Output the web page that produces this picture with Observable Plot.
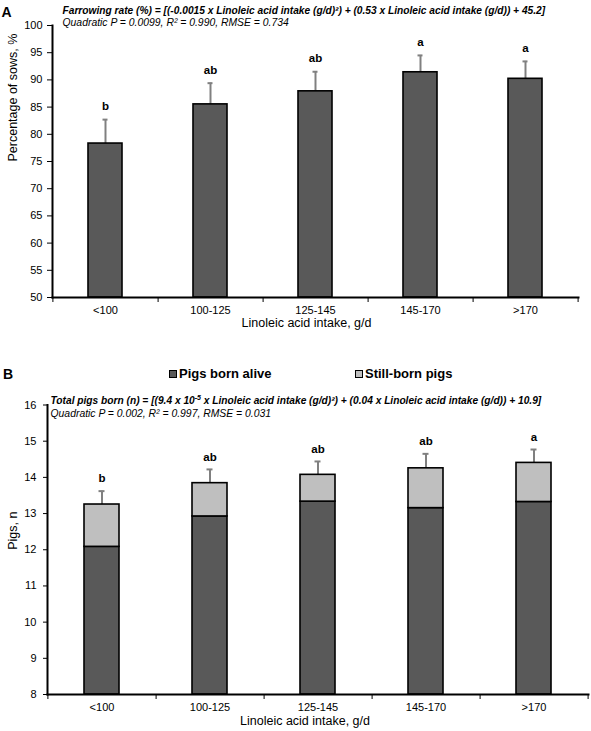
<!DOCTYPE html>
<html><head><meta charset="utf-8">
<script src="https://cdn.jsdelivr.net/npm/d3@7"></script>
<script src="https://cdn.jsdelivr.net/npm/@observablehq/plot@0.6"></script>
<style>
body{margin:0;background:#fff;font-family:"Liberation Sans",Arial,sans-serif;color:#000;}
#wrap{position:relative;width:591px;height:731px;overflow:hidden;}
#panelA svg,#panelB svg{display:block;}
#legendB{position:relative;height:32px;}
#legendB .pl{position:absolute;left:3px;top:8px;font-weight:bold;font-size:14px;line-height:16px;}
#legendB .it{position:absolute;top:8px;font-weight:bold;font-size:13px;line-height:16px;white-space:nowrap;}
#legendB .sw{position:absolute;left:0;top:4px;width:6px;height:6px;border:1px solid #000;}
</style></head><body>
<div id="wrap">
<div id="panelA"></div>
<div id="legendB">
  <span class="pl">B</span>
  <span class="it" style="left:169px"><i class="sw" style="background:#595959"></i><span style="margin-left:10px">Pigs born alive</span></span>
  <span class="it" style="left:355px"><i class="sw" style="background:#bfbfbf"></i><span style="margin-left:10px">Still-born pigs</span></span>
</div>
<div id="panelB"></div>
</div>
<script>
// ---- data ----
const categories = ["<100", "100-125", "125-145", "145-170", ">170"];
const farrowingRate = [78.3, 85.5, 87.9, 91.4, 90.2];
const farrowingSE = [4.4, 3.9, 3.6, 3.1, 3.2];
const farrowingLetters = ["b", "ab", "ab", "a", "a"];
const bornAlive = [12.08, 12.92, 13.33, 13.15, 13.32];
const stillBorn = [1.17, 0.92, 0.74, 1.10, 1.08];
const totalSE = [0.37, 0.38, 0.37, 0.40, 0.37];
const totalLetters = ["b", "ab", "ab", "ab", "a"];
const yTicksA = [50, 55, 60, 65, 70, 75, 80, 85, 90, 95, 100];
const yTicksB = [8, 9, 10, 11, 12, 13, 14, 15, 16];
const xLabel = "Linoleic acid intake, g/d";
const yLabelA = "Percentage of sows, %";
const yLabelB = "Pigs, n";
const titleA = ["Farrowing rate (%) = [(-0.0015 x Linoleic acid intake (g/d)²) + (0.53 x Linoleic acid intake (g/d)) + 45.2]",
                "Quadratic P = 0.0099, R² = 0.990, RMSE = 0.734"];
const titleB = ["Total pigs born (n) = [(9.4 x 10-5 x Linoleic acid intake (g/d)²) + (0.04 x Linoleic acid intake (g/d)) + 10.9]",
                "Quadratic P = 0.002, R² = 0.997, RMSE = 0.031"];

const W = 591;
const DARK = "#595959", LIGHT = "#bfbfbf", ERR = "#808080";
const FONT = "'Liberation Sans', Arial, sans-serif";

const dataA = categories.map((c, i) => ({cat: c, value: farrowingRate[i], top: farrowingRate[i] + farrowingSE[i], letter: farrowingLetters[i]}));
const dataB = categories.map((c, i) => ({cat: c, alive: bornAlive[i], total: bornAlive[i] + stillBorn[i], top: bornAlive[i] + stillBorn[i] + totalSE[i], letter: totalLetters[i]}));

function xScale() {
  return {type: "band", domain: categories, paddingInner: 0.68, paddingOuter: 0.34, align: 0.5, axis: null};
}
function xAxes(step) {
  return [
    Plot.axisX({tickSize: 0, tickPadding: 9, fontSize: 11, label: null}),
    Plot.axisX({tickSize: 5, dx: step / 2, tickFormat: () => "", label: null}),
    Plot.axisX({ticks: [categories[0]], tickSize: 5, dx: -step / 2, tickFormat: () => "", label: null})
  ];
}

// ---- Panel A ----
{
  const ml = 52, mr = 13, mt = 25, mb = 61, h = 358;
  const step = (W - ml - mr) / categories.length;
  const yMin = yTicksA[0];
  const chart = Plot.plot({
    width: W, height: h, marginLeft: ml, marginRight: mr, marginTop: mt, marginBottom: mb,
    style: {fontFamily: FONT, fontSize: "11px", color: "black", background: "white"},
    x: xScale(),
    y: {domain: [yTicksA[0], yTicksA[yTicksA.length - 1]], axis: null},
    marks: [
      Plot.axisY({ticks: yTicksA, tickSize: 5, tickPadding: 5, fontSize: 11, label: null}),
      ...xAxes(step),
      Plot.ruleX(dataA, {x: "cat", y1: "value", y2: "top", stroke: ERR, strokeWidth: 2}),
      Plot.tickY(dataA, {x: "cat", y: "top", insetLeft: 14.5, insetRight: 14.5, stroke: ERR, strokeWidth: 2}),
      Plot.barY(dataA, {x: "cat", y1: () => yMin, y2: "value", fill: DARK, stroke: "black", strokeWidth: 1.6}),
      Plot.text(dataA, {x: "cat", y: "top", text: "letter", dy: -13, fontWeight: "bold", fontSize: 11.5}),
      Plot.frame({anchor: "left", stroke: "black", strokeWidth: 2}),
      Plot.frame({anchor: "bottom", stroke: "black", strokeWidth: 2}),
      Plot.text([yLabelA], {frameAnchor: "left", dx: -40, rotate: -90, fontSize: 12.5}),
      Plot.text([xLabel], {frameAnchor: "bottom", dx: -9, dy: 29, fontSize: 12.5}),
      Plot.text([titleA[0]], {frameAnchor: "top-left", dx: 10, dy: -19, textAnchor: "start", fontWeight: "bold", fontStyle: "italic", fontSize: 10.2}),
      Plot.text([titleA[1]], {frameAnchor: "top-left", dx: 10, dy: -6.5, textAnchor: "start", fontStyle: "italic", fontSize: 10.4}),
      Plot.text(["A"], {frameAnchor: "top-left", dx: -51, dy: -18, textAnchor: "start", fontWeight: "bold", fontSize: 14})
    ]
  });
  document.getElementById("panelA").append(chart);
}

// ---- Panel B ----
{
  const ml = 47, mr = 3, mt = 14.5, mb = 37, h = 341;
  const step = (W - ml - mr) / categories.length;
  const yMin = yTicksB[0];
  const chart = Plot.plot({
    width: W, height: h, marginLeft: ml, marginRight: mr, marginTop: mt, marginBottom: mb,
    style: {fontFamily: FONT, fontSize: "11px", color: "black", background: "white"},
    x: xScale(),
    y: {domain: [yTicksB[0], yTicksB[yTicksB.length - 1]], axis: null},
    marks: [
      Plot.axisY({ticks: yTicksB, tickSize: 4, tickPadding: 7, fontSize: 11, label: null}),
      ...xAxes(step),
      Plot.ruleX(dataB, {x: "cat", y1: "total", y2: "top", stroke: ERR, strokeWidth: 2}),
      Plot.tickY(dataB, {x: "cat", y: "top", insetLeft: 14.5, insetRight: 14.5, stroke: ERR, strokeWidth: 2}),
      Plot.barY(dataB, {x: "cat", y1: () => yMin, y2: "alive", fill: DARK, stroke: "black", strokeWidth: 1.6}),
      Plot.barY(dataB, {x: "cat", y1: "alive", y2: "total", fill: LIGHT, stroke: "black", strokeWidth: 1.6}),
      Plot.text(dataB, {x: "cat", y: "top", text: "letter", dy: -12.5, fontWeight: "bold", fontSize: 11.5}),
      Plot.frame({anchor: "left", stroke: "black", strokeWidth: 2}),
      Plot.frame({anchor: "bottom", stroke: "black", strokeWidth: 2}),
      Plot.text([yLabelB], {frameAnchor: "left", dx: -35, rotate: -90, fontSize: 12.5}),
      Plot.text([xLabel], {frameAnchor: "bottom", dx: -13, dy: 30, fontSize: 12.5}),
      Plot.text([titleB[0]], {frameAnchor: "top-left", dx: 3, dy: -8.5, textAnchor: "start", fontWeight: "bold", fontStyle: "italic", fontSize: 10.2}),
      Plot.text([titleB[1]], {frameAnchor: "top-left", dx: 3, dy: 5, textAnchor: "start", fontStyle: "italic", fontSize: 10.4})
    ]
  });
  document.getElementById("panelB").append(chart);
}

// superscript "-5" in the panel B equation
document.querySelectorAll("#panelB text").forEach(t => {
  const s = t.textContent;
  const k = s.indexOf("10-5");
  if (k < 0 || t.children.length) return;
  const ns = "http://www.w3.org/2000/svg";
  t.textContent = "";
  const a = document.createElementNS(ns, "tspan"); a.textContent = s.slice(0, k + 2);
  const b = document.createElementNS(ns, "tspan"); b.textContent = "-5"; b.setAttribute("dy", "-4"); b.setAttribute("font-size", "7");
  const c = document.createElementNS(ns, "tspan"); c.textContent = s.slice(k + 4); c.setAttribute("dy", "4");
  t.append(a, b, c);
});
</script>
</body></html>
